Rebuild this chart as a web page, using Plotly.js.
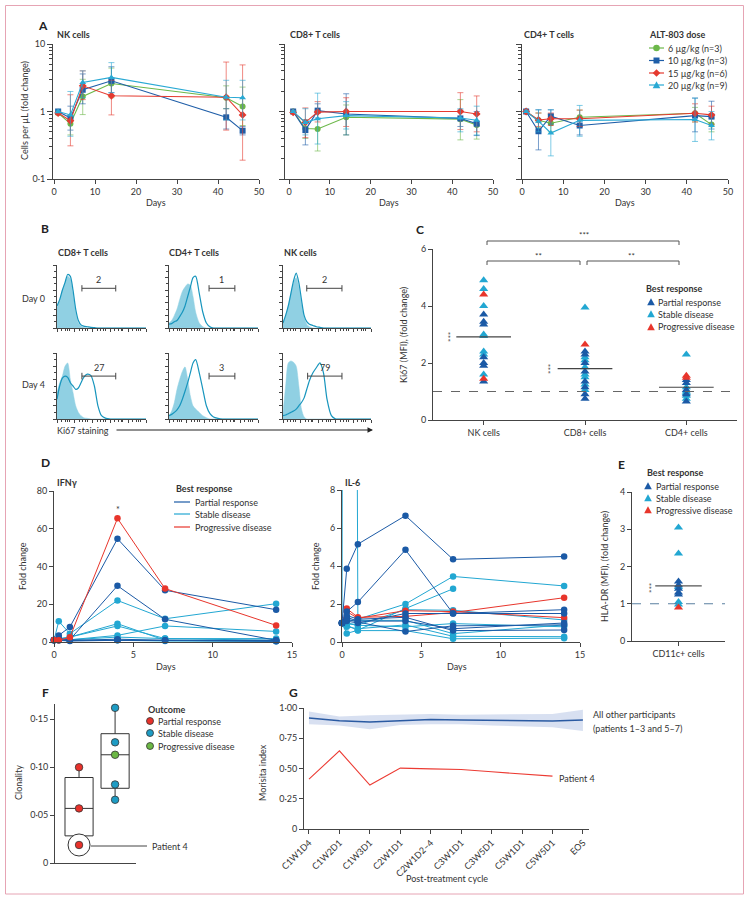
<!DOCTYPE html>
<html><head><meta charset="utf-8">
<script src="https://cdn.plot.ly/plotly-3.0.1.min.js"></script>
<style>body{margin:0;background:#fff}#chart{width:750px;height:900px}</style>
</head><body><div id="chart"></div>
<script>
// ================= DATA =================
// Panel A: fold change of cells per µL, by ALT-803 dose
const aDays = [1, 4, 7, 14, 42, 46];
const doseLabels = ['6 µg/kg (n=3)', '10 µg/kg (n=3)', '15 µg/kg (n=6)', '20 µg/kg (n=9)'];
const nk_6 = [0.95, 0.66, 1.67, 2.6, 1.6, 1.19];
const nk_6_hi = [1.0, 0.9, 3.0, 4.4, 2.4, 2.3];
const nk_6_lo = [0.9, 0.45, 0.9, 1.6, 1.1, 0.62];
const nk_10 = [1.0, 0.8, 2.1, 2.85, 0.82, 0.52];
const nk_10_hi = [1.05, 1.2, 3.6, 4.6, 1.1, 0.6];
const nk_10_lo = [0.95, 0.53, 1.3, 1.9, 0.55, 0.45];
const nk_15 = [0.95, 0.73, 2.4, 1.71, 1.63, 0.89];
const nk_15_hi = [1.0, 1.77, 4.0, 2.9, 5.4, 4.9];
const nk_15_lo = [0.9, 0.31, 1.5, 0.89, 0.53, 0.19];
const nk_20 = [1.0, 0.89, 2.7, 3.2, 1.63, 1.6];
const nk_20_hi = [1.05, 1.98, 4.0, 5.3, 2.9, 2.9];
const nk_20_lo = [0.95, 0.43, 1.6, 1.9, 0.75, 0.75];

const cd8_6 = [1.0, 0.56, 0.55, 0.82, 0.77, 0.63];
const cd8_6_hi = [1.03, 0.75, 1.05, 1.25, 1.5, 0.9];
const cd8_6_lo = [0.97, 0.4, 0.26, 0.45, 0.38, 0.39];
const cd8_10 = [1.0, 0.53, 1.03, 0.92, 0.79, 0.66];
const cd8_10_hi = [1.03, 0.75, 1.3, 1.83, 1.05, 1.0];
const cd8_10_lo = [0.97, 0.32, 0.8, 0.45, 0.6, 0.44];
const cd8_15 = [0.97, 0.69, 0.98, 1.0, 1.0, 0.92];
const cd8_15_hi = [1.0, 1.13, 1.4, 1.6, 1.9, 1.7];
const cd8_15_lo = [0.94, 0.41, 0.7, 0.6, 0.54, 0.5];
const cd8_20 = [1.0, 0.69, 0.78, 0.87, 0.8, 0.74];
const cd8_20_hi = [1.03, 1.1, 1.87, 1.4, 1.1, 1.2];
const cd8_20_lo = [0.97, 0.45, 0.33, 0.55, 0.5, 0.45];

const cd4_6 = [1.0, 0.74, 0.67, 0.82, 0.94, 0.64];
const cd4_6_hi = [1.03, 0.95, 0.9, 1.05, 1.15, 0.8];
const cd4_6_lo = [0.97, 0.58, 0.5, 0.6, 0.7, 0.5];
const cd4_10 = [1.0, 0.51, 0.85, 0.62, 0.87, 0.84];
const cd4_10_hi = [1.03, 1.06, 1.06, 0.8, 1.58, 1.42];
const cd4_10_lo = [0.97, 0.27, 0.65, 0.45, 0.5, 0.55];
const cd4_15 = [1.0, 0.75, 0.78, 0.78, 0.94, 0.89];
const cd4_15_hi = [1.05, 0.95, 0.95, 1.05, 1.3, 1.2];
const cd4_15_lo = [0.96, 0.6, 0.62, 0.6, 0.7, 0.65];
const cd4_20 = [1.0, 0.72, 0.48, 0.74, 0.76, 0.62];
const cd4_20_hi = [1.03, 1.06, 1.06, 1.23, 1.58, 1.0];
const cd4_20_lo = [0.97, 0.5, 0.22, 0.43, 0.36, 0.38];

// Panel B: Ki67 histograms (relative count on a common channel grid)
const bx = [0, 3, 6, 9, 12, 15, 18, 21, 24, 27, 30, 34, 38, 42, 46, 50, 55, 60, 70, 100];
const cd8_d0_fill = [0.33, 0.45, 0.6, 0.72, 0.82, 0.78, 0.55, 0.25, 0.08, 0.03, 0.01, 0, 0, 0, 0, 0, 0, 0, 0, 0];
const cd8_d0_line = [0.35, 0.45, 0.6, 0.72, 0.85, 0.82, 0.6, 0.3, 0.12, 0.05, 0.03, 0.02, 0.01, 0.005, 0, 0, 0, 0, 0, 0];
const cd4_d0_fill = [0.08, 0.12, 0.2, 0.3, 0.45, 0.58, 0.65, 0.7, 0.68, 0.5, 0.25, 0.08, 0.02, 0, 0, 0, 0, 0, 0, 0];
const cd4_d0_line = [0.06, 0.07, 0.1, 0.12, 0.18, 0.25, 0.35, 0.5, 0.65, 0.8, 0.82, 0.55, 0.25, 0.08, 0.02, 0, 0, 0, 0, 0];
const nk_d0_fill = [0.08, 0.2, 0.35, 0.55, 0.72, 0.8, 0.65, 0.4, 0.18, 0.06, 0.02, 0, 0, 0, 0, 0, 0, 0, 0, 0];
const nk_d0_line = [0.08, 0.2, 0.35, 0.55, 0.75, 0.87, 0.72, 0.45, 0.2, 0.1, 0.06, 0.04, 0.02, 0.01, 0, 0, 0, 0, 0, 0];
const cd8_d4_fill = [0.4, 0.55, 0.65, 0.8, 0.85, 0.6, 0.4, 0.2, 0.1, 0.05, 0.02, 0.01, 0, 0, 0, 0, 0, 0, 0, 0];
const cd8_d4_line = [0.3, 0.5, 0.62, 0.65, 0.63, 0.55, 0.5, 0.45, 0.47, 0.55, 0.63, 0.68, 0.66, 0.5, 0.2, 0.05, 0.01, 0, 0, 0];
const cd4_d4_fill = [0.05, 0.12, 0.25, 0.45, 0.6, 0.72, 0.79, 0.6, 0.35, 0.2, 0.15, 0.1, 0.05, 0.02, 0, 0, 0, 0, 0, 0];
const cd4_d4_line = [0.05, 0.07, 0.1, 0.14, 0.2, 0.3, 0.42, 0.55, 0.7, 0.85, 0.9, 0.7, 0.45, 0.2, 0.08, 0.03, 0.01, 0, 0, 0];
const nk_d4_fill = [0.1, 0.5, 0.85, 0.88, 0.86, 0.8, 0.5, 0.15, 0.03, 0, 0, 0, 0, 0, 0, 0, 0, 0, 0, 0];
const nk_d4_line = [0.05, 0.06, 0.08, 0.1, 0.12, 0.15, 0.2, 0.25, 0.32, 0.45, 0.58, 0.7, 0.78, 0.85, 0.7, 0.3, 0.05, 0, 0, 0];
const bCols = ['CD8+ T cells', 'CD4+ T cells', 'NK cells'];
const bRows = ['Day 0', 'Day 4'];
const bGates = ['2', '1', '2', '27', '3', '79'];

// Panel C: Ki67 (MFI) fold change
const cCats = ['NK cells', 'CD8+ cells', 'CD4+ cells'];
const c_nk_partial = [3.7, 3.45, 3.35, 2.2, 2.0, 1.9, 1.35];
const c_nk_stable = [4.9, 4.6, 4.0, 3.0, 2.95, 2.4, 2.3, 1.6];
const c_nk_prog = [4.4, 1.45];
const c_cd8_partial = [2.4, 2.3, 2.0, 1.7, 1.35, 1.15, 0.9, 0.75];
const c_cd8_stable = [3.95, 2.2, 2.1, 1.85, 1.6, 1.5, 1.25, 1.05];
const c_cd8_prog = [2.65];
const c_cd4_partial = [1.4, 1.3, 1.05, 0.9, 0.65];
const c_cd4_stable = [2.3, 1.15, 1.0, 0.95, 0.85, 0.75];
const c_cd4_prog = [1.55, 1.48];
const c_median = [2.92, 1.8, 1.15];

// Panel D: cytokine fold change over days
const dDays = [0, 0.3, 1, 4, 7, 14];
const ifnPartial = [
  [1, 3.5, 7.9, 54.7, 27.4, 17.1],
  [1, 1.8, 1.2, 29.8, 12.0, 0.9],
  [0.8, 0.9, 0.5, 0.9, 0.9, 0.4],
  [1, 1.2, 0.8, 1.5, 0.9, 0.9],
  [1, 1, 1, 1.2, 0.8, 0.6]
];
const ifnStable = [
  [1, 11, 4.4, 22, 12.3, 20.3],
  [1, 1.8, 2.6, 9.7, 0.9, 0.5],
  [1, 0.9, 1.2, 3.5, 8.5, 5.6],
  [1, 1.5, 2.6, 8.5, 1.8, 1.8],
  [1, 1, 1.2, 2.6, 1.8, 0.9],
  [1, 0.9, 0.9, 0.9, 0.5, 0.4]
];
const ifnProgressive = [[1, 0.9, 2.5, 65.5, 28.3, 8.8]];
const il6Partial = [
  [1, 3.85, 5.15, 6.65, 4.35, 4.5],
  [1, 1.6, 2.1, 4.85, 1.5, 1.7],
  [1, 1.3, 1.1, 1.1, 0.7, 1.0],
  [1, 1.1, 1.0, 1.5, 1.5, 1.5],
  [1, 1.2, 1.05, 0.55, 0.85, 0.9],
  [1, 1.4, 1.2, 1.3, 0.6, 0.63]
];
const il6Stable = [
  [1, 150, 1.2, 2.0, 3.45, 2.95],
  [1, 0.45, 0.62, 1.76, 2.8, null],
  [1, 0.8, 0.7, 0.9, 0.3, 0.28],
  [1, 0.9, 0.6, 0.6, 0.17, 0.2],
  [1, 1.0, 0.9, 1.7, 1.67, 1.16],
  [1, 0.97, 0.88, 0.8, 0.97, 0.8],
  [1, 1.14, 1.14, 1.14, 0.44, 0.9]
];
const il6Progressive = [
  [1, 1.76, 1.3, 1.35, 1.55, 2.33],
  [1, 1.6, 1.25, 1.65, 1.6, 1.28]
];

// Panel E: HLA-DR (MFI) fold change, CD11c+ cells
const eCat = ['CD11c+ cells'];
const e_partial = [1.6, 1.5, 1.4, 1.3, 1.25];
const e_stable = [3.05, 2.35, 1.45, 1.05, 0.98];
const e_prog = [0.9];
const e_median = [1.48];

// Panel F: clonality
const f_partial = [0.100, 0.057, 0.0188];   // last = patient 4
const f_stable = [0.162, 0.126, 0.082, 0.066];
const f_prog = [0.113];

// Panel G: Morisita index
const gCycles = ['C1W1D4', 'C1W2D1', 'C1W3D1', 'C2W1D1', 'C2W1D2–4', 'C3W1D1', 'C3W5D1', 'C5W1D1', 'C5W5D1', 'EOS'];
const gMean = [0.918, 0.895, 0.885, 0.895, 0.905, 0.9, 0.898, 0.893, 0.893, 0.9];
const gUpper = [0.972, 0.93, 0.94, 0.945, 0.95, 0.945, 0.945, 0.945, 0.95, 0.986];
const gLower = [0.865, 0.855, 0.825, 0.86, 0.865, 0.865, 0.855, 0.85, 0.84, 0.81];
const gPatient4 = [0.412, 0.646, 0.363, 0.503, 0.497, 0.492, 0.473, 0.453, 0.437, null];

// ================= STYLE / LAYOUT =================
const FONT = 'Lato, "Noto Sans", sans-serif';
const TXT = '#333';
const C_PART = '#1b5aa6', C_STAB = '#22a7d2', C_PROG = '#e8352b';
const C6 = '#6cb84a', C10 = '#1f5ea8', C15 = '#e53a2f', C20 = '#29a9d4';
const F_RED = '#e8312a', F_BLUE = '#1e9cc4', F_GREEN = '#6cb845';
const W = 750, H = 900;
const X = p => p / W, Y = p => 1 - p / H;
const dom = (x0, x1, yt, yb) => ({x: [X(x0), X(x1)], y: [Y(yb), Y(yt)]});
const S = n => (n === 1 ? '' : String(n));
function fade(hex, a) {
  const n = parseInt(hex.slice(1), 16);
  return 'rgba(' + (n >> 16) + ',' + ((n >> 8) & 255) + ',' + (n & 255) + ',' + a + ')';
}

const layout = {
  width: W, height: H, margin: {l: 0, r: 0, t: 0, b: 0},
  paper_bgcolor: '#fff', plot_bgcolor: 'rgba(0,0,0,0)', showlegend: false,
  font: {family: FONT, size: 9, color: TXT},
  shapes: [], annotations: []
};
const axBase = {showline: true, linecolor: '#444', linewidth: 1, ticks: 'outside', ticklen: 4,
  tickcolor: '#444', tickwidth: 1, tickfont: {family: FONT, size: 9, color: TXT},
  showgrid: false, zeroline: false, fixedrange: true};
function setAxes(n, d, xo, yo) {
  layout['xaxis' + S(n)] = Object.assign({}, axBase, {domain: d.x, anchor: 'y' + S(n)}, xo);
  layout['yaxis' + S(n)] = Object.assign({}, axBase, {domain: d.y, anchor: 'x' + S(n)}, yo);
}
function txt(t, px, py, o) {
  layout.annotations.push(Object.assign({text: t, x: X(px), y: Y(py), xref: 'paper', yref: 'paper',
    showarrow: false, xanchor: 'left', yanchor: 'middle', font: {family: FONT, size: 9, color: TXT}}, o || {}));
}
function vtxt(t, px, py, size) { txt(t, px, py, {xanchor: 'center', textangle: -90, font: {family: FONT, size: size || 9, color: TXT}}); }
function ctxt(t, px, py, size) { txt(t, px, py, {xanchor: 'center', font: {family: FONT, size: size || 9, color: TXT}}); }
function letter(t, px, py) { txt('<b>' + t + '</b>', px, py, {xanchor: 'center', font: {family: FONT, size: 12, color: '#222'}}); }
function line(x0, y0, x1, y1, color, w, dash) {
  layout.shapes.push({type: 'line', xref: 'paper', yref: 'paper', x0: X(x0), y0: Y(y0), x1: X(x1), y1: Y(y1),
    line: {color: color || '#444', width: w || 1, dash: dash || 'solid'}});
}
function pathPx(pts, fill, lc) {
  const d = pts.map((p, i) => (i ? 'L' : 'M') + X(p[0]).toFixed(5) + ',' + Y(p[1]).toFixed(5)).join(' ') + ' Z';
  layout.shapes.push({type: 'path', xref: 'paper', yref: 'paper', path: d, fillcolor: fill, line: {color: lc || fill, width: lc ? 0.8 : 0}});
}
function circ(px, py, r, fill, lc) {
  layout.shapes.push({type: 'circle', xref: 'paper', yref: 'paper', x0: X(px - r), x1: X(px + r), y0: Y(py + r), y1: Y(py - r),
    fillcolor: fill, line: {color: lc || fill, width: lc ? 0.8 : 0}});
}
const tri = (px, py, c) => pathPx([[px - 3.8, py + 3.2], [px + 3.8, py + 3.2], [px, py - 3.8]], c);
const sq = (px, py, c) => pathPx([[px - 3, py - 3], [px + 3, py - 3], [px + 3, py + 3], [px - 3, py + 3]], c);
const dia = (px, py, c) => pathPx([[px, py - 3.8], [px + 3.8, py], [px, py + 3.8], [px - 3.8, py]], c);

const traces = [];

// border
layout.shapes.push({type: 'rect', xref: 'paper', yref: 'paper', x0: X(5.5), x1: X(743.5), y0: Y(894), y1: Y(5.5),
  line: {color: '#e6a4b4', width: 1}});

// ---------- Panel A ----------
const minorLog = [0.2, 0.3, 0.4, 0.5, 0.6, 0.7, 0.8, 0.9, 2, 3, 4, 5, 6, 7, 8, 9];
const aY = {type: 'log', range: [-1, 1], tickvals: [0.1, 1, 10], ticktext: ['0·1', '1', '10'], ticklen: 5,
  minor: {tickmode: 'array', tickvals: minorLog, ticks: 'outside', ticklen: 3, tickcolor: '#444'}};
const aX = {tickvals: [0, 10, 20, 30, 40, 50]};
setAxes(1, dom(53, 259, 44, 179), Object.assign({range: [-0.25, 50]}, aX), aY);
setAxes(2, dom(285, 493, 44, 179), Object.assign({range: [-1, 50]}, aX), Object.assign({}, aY, {showticklabels: false}));
setAxes(3, dom(522, 728, 44, 179), Object.assign({range: [0, 50]}, aX), Object.assign({}, aY, {showticklabels: false}));
const doseStyle = [
  {c: C6, s: 'circle'}, {c: C10, s: 'square'}, {c: C15, s: 'diamond'}, {c: C20, s: 'triangle-up'}
];
const aPanels = [
  {n: 1, s: [[nk_6, nk_6_hi, nk_6_lo], [nk_10, nk_10_hi, nk_10_lo], [nk_15, nk_15_hi, nk_15_lo], [nk_20, nk_20_hi, nk_20_lo]]},
  {n: 2, s: [[cd8_6, cd8_6_hi, cd8_6_lo], [cd8_10, cd8_10_hi, cd8_10_lo], [cd8_15, cd8_15_hi, cd8_15_lo], [cd8_20, cd8_20_hi, cd8_20_lo]]},
  {n: 3, s: [[cd4_6, cd4_6_hi, cd4_6_lo], [cd4_10, cd4_10_hi, cd4_10_lo], [cd4_15, cd4_15_hi, cd4_15_lo], [cd4_20, cd4_20_hi, cd4_20_lo]]}
];
aPanels.forEach(p => p.s.forEach((s, i) => {
  const st = doseStyle[i];
  traces.push({type: 'scatter', mode: 'lines+markers', name: doseLabels[i], x: aDays, y: s[0],
    xaxis: 'x' + S(p.n), yaxis: 'y' + S(p.n), cliponaxis: false,
    line: {color: st.c, width: 1.1}, marker: {symbol: st.s, size: 6, color: st.c},
    error_y: {type: 'data', symmetric: false, array: s[1].map((h, k) => h - s[0][k]),
      arrayminus: s[0].map((v, k) => v - s[2][k]), color: fade(st.c, 0.6), thickness: 1, width: 3}});
}));
letter('A', 43, 25);
txt('<b>NK cells</b>', 55, 35);
txt('<b>CD8+ T cells</b>', 288, 35);
txt('<b>CD4+ T cells</b>', 522, 35);
vtxt('Cells per µL (fold change)', 25, 111);
ctxt('Days', 156, 203); ctxt('Days', 389, 203); ctxt('Days', 625, 203);
txt('<b>ALT-803 dose</b>', 647, 35);
const legAy = [48, 60.5, 73, 85];
doseLabels.forEach((lab, i) => {
  line(649, legAy[i], 664, legAy[i], doseStyle[i].c, 1.2);
  const f = [circ, sq, dia, tri][i];
  if (i === 0) circ(656.5, legAy[i], 3.3, doseStyle[i].c); else f(656.5, legAy[i], doseStyle[i].c);
  txt(lab, 666, legAy[i]);
});

// ---------- Panel B ----------
const bColX = [[57, 146], [169, 258], [283, 371]];
const bRowY = [[265, 328], [353, 419]];
const bData = [[cd8_d0_fill, cd8_d0_line], [cd4_d0_fill, cd4_d0_line], [nk_d0_fill, nk_d0_line],
               [cd8_d4_fill, cd8_d4_line], [cd4_d4_fill, cd4_d4_line], [nk_d4_fill, nk_d4_line]];
const bGateX = [[28, 66], [45, 74], [27, 67], [28, 66], [45, 74], [28, 67]];
bData.forEach((d, k) => {
  const n = 4 + k, r = Math.floor(k / 3), c = k % 3;
  setAxes(n, dom(bColX[c][0], bColX[c][1], bRowY[r][0], bRowY[r][1]),
    {range: [0, 100], tickvals: [0, 20, 40, 60, 80, 100], showticklabels: false, ticklen: 3,
     minor: {tickmode: 'array', tickvals: [5, 9, 12, 14, 25, 29, 32, 34, 45, 49, 52, 54, 65, 69, 72, 74, 85, 89, 92, 94], ticks: 'outside', ticklen: 2, tickcolor: '#444'}},
    {range: [0, 1], tickvals: [0, 0.2, 0.4, 0.6, 0.8, 1], showticklabels: false, ticklen: 3,
     minor: {tickmode: 'array', tickvals: [0.1, 0.3, 0.5, 0.7, 0.9], ticks: 'outside', ticklen: 2, tickcolor: '#444'}});
  traces.push({type: 'scatter', mode: 'lines', x: bx, y: d[0], xaxis: 'x' + n, yaxis: 'y' + n,
    fill: 'tozeroy', fillcolor: '#90d0e3', line: {color: '#90d0e3', width: 0.5, shape: 'spline', smoothing: 0.7}});
  traces.push({type: 'scatter', mode: 'lines', x: bx, y: d[1], xaxis: 'x' + n, yaxis: 'y' + n,
    line: {color: '#1795bd', width: 1.2, shape: 'spline', smoothing: 0.7}});
  // gate bracket
  const gy = r === 0 ? 0.63 : 0.65;
  layout.shapes.push({type: 'path', xref: 'x' + n, yref: 'y' + n,
    path: 'M' + bGateX[k][0] + ',' + (gy + 0.05) + ' L' + bGateX[k][0] + ',' + (gy - 0.05) + ' M' + bGateX[k][0] + ',' + gy +
      ' L' + bGateX[k][1] + ',' + gy + ' M' + bGateX[k][1] + ',' + (gy + 0.05) + ' L' + bGateX[k][1] + ',' + (gy - 0.05),
    line: {color: '#444', width: 1}});
  layout.annotations.push({text: bGates[k], xref: 'x' + n, yref: 'y' + n, x: (bGateX[k][0] + bGateX[k][1]) / 2, y: gy,
    yanchor: 'bottom', showarrow: false, yshift: 1, font: {family: FONT, size: 9, color: TXT}});
});
letter('B', 45, 228);
txt('<b>' + bCols[0] + '</b>', 56, 253); txt('<b>' + bCols[1] + '</b>', 167, 253); txt('<b>' + bCols[2] + '</b>', 282, 253);
txt(bRows[0], 20, 298); txt(bRows[1], 20, 384);
txt('Ki67 staining', 55, 430);
layout.annotations.push({text: '', x: X(373), y: Y(430), xref: 'paper', yref: 'paper', showarrow: true,
  ax: -258, ay: 0, arrowhead: 2, arrowsize: 1.1, arrowwidth: 1, arrowcolor: '#222'});

// ---------- Panel C ----------
setAxes(10, dom(433, 737, 249, 420),
  {range: [-0.5, 2.5], tickvals: [0, 1, 2], ticktext: cCats},
  {range: [0, 6], tickvals: [0, 2, 4, 6]});
const cGroups = [
  [[c_nk_stable, c_cd8_stable, c_cd4_stable], C_STAB],
  [[c_nk_partial, c_cd8_partial, c_cd4_partial], C_PART],
  [[c_nk_prog, c_cd8_prog, c_cd4_prog], C_PROG]
];
cGroups.forEach(g => {
  const xs = [], ys = [];
  g[0].forEach((arr, i) => arr.forEach(v => { xs.push(i); ys.push(v); }));
  traces.push({type: 'scatter', mode: 'markers', x: xs, y: ys, xaxis: 'x10', yaxis: 'y10', cliponaxis: false,
    marker: {symbol: 'triangle-up', size: 8, color: g[1]}});
});
c_median.forEach((m, i) => traces.push({type: 'scatter', mode: 'lines', x: [i - 0.27, i + 0.27], y: [m, m],
  xaxis: 'x10', yaxis: 'y10', line: {color: '#444', width: 1.2}}));
layout.shapes.push({type: 'line', xref: 'paper', yref: 'y10', x0: X(433), x1: X(737), y0: 1, y1: 1,
  line: {color: '#666', width: 1, dash: 'dash'}});
letter('C', 420, 229);
vtxt('Ki67 (MFI), (fold change)', 403, 335);
// significance brackets
layout.shapes.push({type: 'path', xref: 'paper', yref: 'paper', line: {color: '#555', width: 1},
  path: 'M' + X(487) + ',' + Y(245) + ' L' + X(487) + ',' + Y(241) + ' L' + X(679) + ',' + Y(241) + ' L' + X(679) + ',' + Y(245)});
layout.shapes.push({type: 'path', xref: 'paper', yref: 'paper', line: {color: '#555', width: 1},
  path: 'M' + X(487) + ',' + Y(265) + ' L' + X(487) + ',' + Y(261) + ' L' + X(580) + ',' + Y(261) + ' L' + X(580) + ',' + Y(265)});
layout.shapes.push({type: 'path', xref: 'paper', yref: 'paper', line: {color: '#555', width: 1},
  path: 'M' + X(587) + ',' + Y(265) + ' L' + X(587) + ',' + Y(261) + ' L' + X(679) + ',' + Y(261) + ' L' + X(679) + ',' + Y(265)});
ctxt('***', 584, 235, 8); ctxt('**', 538, 256, 8); ctxt('**', 631, 256, 8);
vtxt('***', 451, 337, 8); vtxt('***', 551, 369, 8);
txt('<b>Best response</b>', 644, 288);
[['Partial response', C_PART], ['Stable disease', C_STAB], ['Progressive disease', C_PROG]].forEach((it, i) => {
  const yy = [302, 314, 327][i];
  tri(651, yy, it[1]); txt(it[0], 656, yy);
});

// ---------- Panel D ----------
setAxes(11, dom(54, 292, 491, 642), {range: [0, 15], tickvals: [0, 5, 10, 15]},
  {range: [0, 80], tickvals: [0, 20, 40, 60, 80]});
setAxes(12, dom(342, 580, 490, 642), {range: [0, 15], tickvals: [0, 5, 10, 15]},
  {range: [0, 8], tickvals: [0, 2, 4, 6, 8]});
function dLines(sets, n) {
  sets.forEach(g => g[0].forEach(vals => {
    const clip = vals.some(v => v !== null && v > (n === 11 ? 80 : 8));
    traces.push({type: 'scatter', mode: 'lines+markers', x: dDays, y: vals, xaxis: 'x' + n, yaxis: 'y' + n,
      cliponaxis: clip, connectgaps: false, line: {color: g[1], width: 1}, marker: {size: 6.5, color: g[1]}});
  }));
}
dLines([[ifnStable, C_STAB], [ifnPartial, C_PART], [ifnProgressive, C_PROG]], 11);
dLines([[il6Stable, C_STAB], [il6Progressive, C_PROG], [il6Partial, C_PART]], 12);
letter('D', 45, 462);
txt('<b>IFNγ</b>', 55, 482); txt('<b>IL-6</b>', 343, 482);
ctxt('*', 118, 509, 9);
vtxt('Fold change', 22, 566); vtxt('Fold change', 315, 566);
ctxt('Days', 166, 666); ctxt('Days', 457, 666);
txt('<b>Best response</b>', 174, 488);
[['Partial response', C_PART], ['Stable disease', C_STAB], ['Progressive disease', C_PROG]].forEach((it, i) => {
  const yy = [502, 514, 527][i];
  line(174, yy, 190, yy, it[1], 1.2); txt(it[0], 193, yy);
});

// ---------- Panel E ----------
setAxes(13, dom(632, 725, 492, 641), {range: [-0.5, 0.5], tickvals: [0], ticktext: eCat},
  {range: [0, 4], tickvals: [0, 1, 2, 3, 4]});
[[e_stable, C_STAB], [e_partial, C_PART], [e_prog, C_PROG]].forEach(g => traces.push({type: 'scatter', mode: 'markers',
  x: g[0].map(() => 0), y: g[0], xaxis: 'x13', yaxis: 'y13', cliponaxis: false,
  marker: {symbol: 'triangle-up', size: 8, color: g[1]}}));
traces.push({type: 'scatter', mode: 'lines', x: [-0.25, 0.25], y: [e_median[0], e_median[0]], xaxis: 'x13', yaxis: 'y13',
  line: {color: '#555', width: 1.2}});
layout.shapes.push({type: 'line', xref: 'paper', yref: 'y13', x0: X(632), x1: X(725), y0: 1, y1: 1,
  line: {color: '#5a7fa0', width: 1, dash: 'dash'}});
letter('E', 621, 464);
vtxt('HLA-DR (MFI), (fold change)', 604, 567);
vtxt('***', 652, 588, 8);
txt('<b>Best response</b>', 645, 472);
[['Partial response', C_PART], ['Stable disease', C_STAB], ['Progressive disease', C_PROG]].forEach((it, i) => {
  const yy = [486, 498, 510][i];
  tri(648, yy, it[1]); txt(it[0], 654, yy);
});

// ---------- Panel F ----------
setAxes(14, dom(55, 136, 704, 863), {range: [-0.667, 1.58], ticks: '', showticklabels: false},
  {range: [0, 0.166], tickvals: [0, 0.05, 0.1, 0.15], ticktext: ['0', '0·05', '0·10', '0·15']});
traces.push({type: 'box', x: f_partial.map(() => 0), y: f_partial, xaxis: 'x14', yaxis: 'y14', boxpoints: false,
  quartilemethod: 'linear', whiskerwidth: 0, width: 0.78, fillcolor: '#fff', line: {color: '#333', width: 1}});
const fAll = f_stable.concat(f_prog);
traces.push({type: 'box', x: fAll.map(() => 1), y: fAll, xaxis: 'x14', yaxis: 'y14', boxpoints: false,
  quartilemethod: 'linear', whiskerwidth: 0, width: 0.78, fillcolor: '#fff', line: {color: '#333', width: 1}});
// ring around patient 4
traces.push({type: 'scatter', mode: 'markers', x: [0], y: [f_partial[2]], xaxis: 'x14', yaxis: 'y14', cliponaxis: false,
  marker: {symbol: 'circle', size: 22, color: '#fff', line: {color: '#333', width: 1}}});
[[f_partial, 0, F_RED], [f_stable, 1, F_BLUE], [f_prog, 1, F_GREEN]].forEach(g => traces.push({type: 'scatter',
  mode: 'markers', x: g[0].map(() => g[1]), y: g[0], xaxis: 'x14', yaxis: 'y14', cliponaxis: false,
  marker: {size: 7.5, color: g[2], line: {color: '#333', width: 0.8}}}));
line(91, 846, 147, 846, '#444', 1);
txt('Patient 4', 150, 846);
letter('F', 45, 692);
vtxt('Clonality', 18, 783);
txt('<b>Outcome</b>', 146, 709);
[['Partial response', F_RED], ['Stable disease', F_BLUE], ['Progressive disease', F_GREEN]].forEach((it, i) => {
  const yy = [721, 733, 746][i];
  circ(150, yy, 3.5, it[1], '#333'); txt(it[0], 156, yy);
});

// ---------- Panel G ----------
setAxes(15, dom(304, 589, 708, 829), {type: 'category', range: [-0.164, 9.2], tickangle: -45},
  {range: [0, 1], tickvals: [0, 0.25, 0.5, 0.75, 1], ticktext: ['0', '0·25', '0·50', '0·75', '1·00']});
traces.push({type: 'scatter', mode: 'lines', x: gCycles, y: gUpper, xaxis: 'x15', yaxis: 'y15',
  line: {width: 0, color: 'rgba(0,0,0,0)'}});
traces.push({type: 'scatter', mode: 'lines', x: gCycles, y: gLower, xaxis: 'x15', yaxis: 'y15', fill: 'tonexty',
  fillcolor: 'rgba(190,203,232,0.6)', line: {width: 0, color: 'rgba(0,0,0,0)'}});
traces.push({type: 'scatter', mode: 'lines', x: gCycles, y: gMean, xaxis: 'x15', yaxis: 'y15',
  line: {color: '#2a5aa2', width: 1.5}});
traces.push({type: 'scatter', mode: 'lines', x: gCycles, y: gPatient4, xaxis: 'x15', yaxis: 'y15',
  line: {color: '#ec3b33', width: 1.1}});
letter('G', 293, 692);
vtxt('Morisita index', 262, 773);
ctxt('Post-treatment cycle', 447, 878);
txt('All other participants', 591, 714);
txt('(patients 1–3 and 5–7)', 591, 728);
txt('Patient 4', 557, 778);

Plotly.newPlot('chart', traces, layout, {staticPlot: true, displayModeBar: false});
</script>
</body></html>
